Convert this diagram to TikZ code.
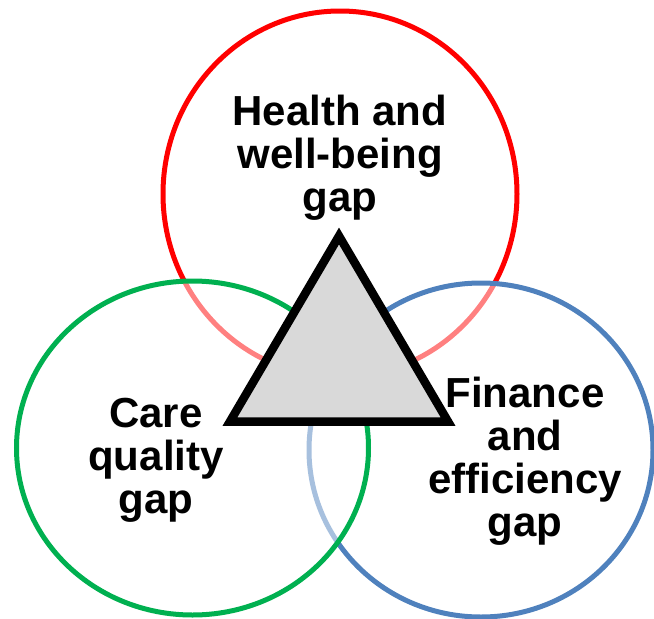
\documentclass[tikz,border=0pt]{standalone}
\usepackage{fontspec}
\setmainfont{Liberation Sans}
\definecolor{healthred}{HTML}{FF0000}
\definecolor{caregreen}{HTML}{00B050}
\definecolor{financeblue}{HTML}{4F81BD}
\definecolor{trianglegray}{HTML}{D9D9D9}
\begin{document}
\begin{tikzpicture}[x=1pt, y=-1pt,
  ring/.style={line width=5pt},
  veil/.style={fill=white, fill opacity=0.5},
  gaplabel/.style={font=\bfseries\fontsize{42}{43}\selectfont, align=center,
                   inner sep=0pt, text=black}]
\useasboundingbox (0,0) rectangle (654,619);
% three overlapping gap rings; the later ones veil the earlier ones
\draw[ring, healthred] (340,194) ellipse [x radius=177pt, y radius=183pt];
\draw[ring, financeblue, veil] (481,450) ellipse [x radius=172pt, y radius=167pt];
\draw[ring, caregreen, veil] (192.5,448) ellipse [x radius=176pt, y radius=167pt];
% central triangle
\draw[line width=8.5pt, fill=trianglegray]
  (339,236) -- (230,421.5) -- (448,421.5) -- cycle;
% labels
\node[gaplabel] (health) at (340,158) {Health and\\well-being\\gap};
\node[gaplabel] (care) at (156,460) {Care\\quality\\gap};
\node[gaplabel] (finance) at (525,461.5) {Finance\\and\\efficiency\\gap};
\end{tikzpicture}
\end{document}
